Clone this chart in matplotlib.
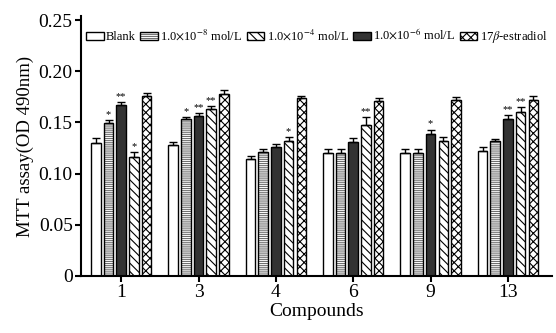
import numpy as np
import matplotlib
matplotlib.use("Agg")
import matplotlib.pyplot as plt
from matplotlib.patches import Patch
from matplotlib.legend_handler import HandlerPatch

plt.rcParams['font.family'] = ['Liberation Serif', 'DejaVu Serif']
plt.rcParams['mathtext.fontset'] = 'stix'
plt.rcParams['hatch.linewidth'] = 0.8

compounds = ['1', '3', '4', '6', '9', '13']
# bar order within each group: Blank, 1e-8, 1e-6, 1e-4, estradiol
blank = [0.130, 0.128, 0.114, 0.120, 0.120, 0.122]
c1e8 = [0.149, 0.153, 0.121, 0.120, 0.120, 0.132]
c1e6 = [0.167, 0.156, 0.126, 0.131, 0.139, 0.153]
c1e4 = [0.116, 0.163, 0.132, 0.148, 0.132, 0.160]
estr = [0.176, 0.178, 0.174, 0.171, 0.172, 0.172]

blank_err = [0.005, 0.003, 0.003, 0.004, 0.004, 0.004]
c1e8_err = [0.003, 0.002, 0.003, 0.004, 0.004, 0.002]
c1e6_err = [0.003, 0.003, 0.003, 0.004, 0.004, 0.004]
c1e4_err = [0.005, 0.003, 0.004, 0.007, 0.004, 0.005]
estr_err = [0.003, 0.004, 0.002, 0.003, 0.003, 0.004]

c1e8_sig = ['*', '*', '', '', '', '']
c1e6_sig = ['**', '**', '', '', '*', '**']
c1e4_sig = ['*', '**', '*', '**', '', '**']
blank_sig = [''] * 6
estr_sig = [''] * 6

labels = ['Blank', r'1.0$\times$10$^{-8}$ mol/L', r'1.0$\times$10$^{-4}$ mol/L',
          r'1.0$\times$10$^{-6}$ mol/L', r'17$\beta$-estradiol']

# (values, errors, significance, face, hatch, hatch colour)
series = [
    (blank, blank_err, blank_sig, 'white', '', 'black'),
    (c1e8, c1e8_err, c1e8_sig, 'white', '--------', '#707070'),
    (c1e6, c1e6_err, c1e6_sig, '#333333', '', 'black'),
    (c1e4, c1e4_err, c1e4_sig, 'white', '\\\\\\\\', 'black'),
    (estr, estr_err, estr_sig, 'white', 'xxxx', 'black'),
]

fig = plt.figure(figsize=(5.56, 3.33), dpi=100)
ax = fig.add_axes([81/556, 57/333, 471/556, 260/333])

x = np.arange(len(compounds))
pitch = 0.164
width = 0.123
for k, (vals, errs, sigs, fc, hatch, hc) in enumerate(series):
    xs = x + (k - 2) * pitch
    ax.bar(xs, vals, width, color=fc, edgecolor=hc, linewidth=0,
           hatch=hatch, zorder=2)
    ax.bar(xs, vals, width, fill=False, edgecolor='black', linewidth=1.0,
           zorder=2.5)
    ax.errorbar(xs, vals, yerr=[np.zeros(len(vals)), errs], fmt='none',
                ecolor='black', elinewidth=1.0, capsize=3, capthick=1.0, zorder=3)
    for xi, v, e, s in zip(xs, vals, errs, sigs):
        if s:
            ax.text(xi, v + e + 0.001, s, ha='center', va='bottom', fontsize=7.5)


class HatchOutline(HandlerPatch):
    def __init__(self, hc):
        super().__init__()
        self.hc = hc

    def create_artists(self, legend, orig_handle, xdescent, ydescent,
                       width, height, fontsize, trans):
        from matplotlib.patches import Rectangle
        r1 = Rectangle((-xdescent, -ydescent), width, height,
                       facecolor=orig_handle.get_facecolor(), edgecolor=self.hc,
                       hatch=orig_handle.get_hatch(), linewidth=0, transform=trans)
        r2 = Rectangle((-xdescent, -ydescent), width, height, fill=False,
                       edgecolor='black', linewidth=1.0, transform=trans)
        return [r1, r2]


handles = []
hmap = {}
for (vals, errs, sigs, fc, hatch, hc), lab in zip([series[0], series[1], series[3], series[2], series[4]], labels):
    p = Patch(facecolor=fc, edgecolor='black', hatch=hatch, label=lab)
    handles.append(p)
    hmap[p] = HatchOutline(hc)

ax.legend(handles=handles, handler_map=hmap, loc='upper left',
          bbox_to_anchor=(0.0, 0.975), borderaxespad=0, frameon=False,
          ncol=5, fontsize=9, handlelength=1.4, handleheight=0.6,
          handletextpad=0.2, columnspacing=0.35)

ax.set_xlim(-0.52, 5.57)
ax.set_ylim(0, 0.254)
ax.set_xticks(x)
ax.set_xticklabels(compounds)
ax.set_yticks([0, 0.05, 0.10, 0.15, 0.20, 0.25])
ax.set_yticklabels(['0', '0.05', '0.10', '0.15', '0.20', '0.25'])
ax.tick_params(axis='both', labelsize=14, width=1.5, length=4, direction='out', pad=2)
for s in ['top', 'right']:
    ax.spines[s].set_visible(False)
for s in ['left', 'bottom']:
    ax.spines[s].set_linewidth(1.5)
ax.set_xlabel('Compounds', fontsize=14, labelpad=1)
ax.set_ylabel('MTT assay(OD 490nm)', fontsize=13.5, labelpad=3)

fig.savefig('out.png', dpi=100)
